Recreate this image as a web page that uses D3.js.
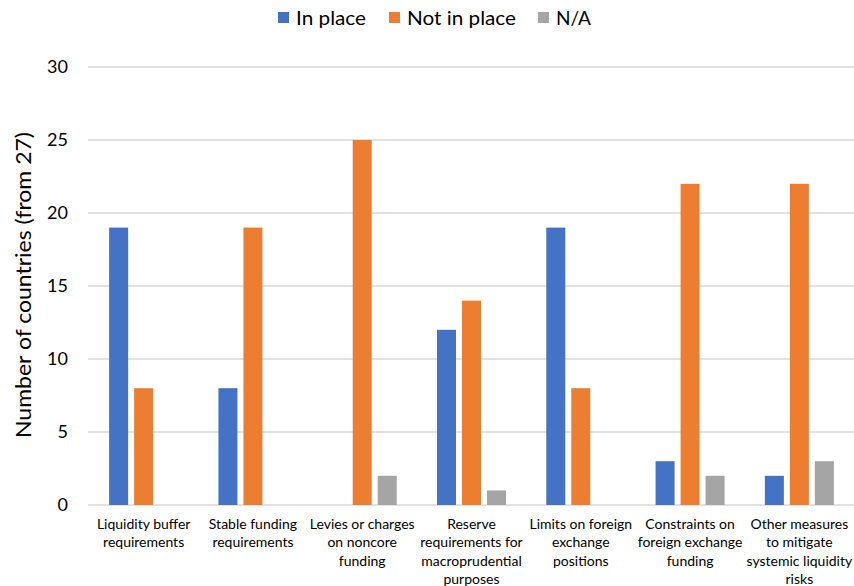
<!DOCTYPE html>
<html>
<head>
<meta charset="utf-8">
<script src="https://cdn.jsdelivr.net/npm/d3@7"></script>
<style>
  body { margin: 0; background: #fff; }
  text { font-family: Lato, "Open Sans", sans-serif; fill: #000; }
</style>
</head>
<body>
<div id="chart"></div>
<script>
// Liquidity tools chart – grouped bars

const categories = [
    ["Liquidity buffer", "requirements"],
    ["Stable funding", "requirements"],
    ["Levies or charges", "on noncore", "funding"],
    ["Reserve", "requirements for", "macroprudential", "purposes"],
    ["Limits on foreign", "exchange", "positions"],
    ["Constraints on", "foreign exchange", "funding"],
    ["Other measures", "to mitigate", "systemic liquidity", "risks"]
];
const seriesNames = ["In place", "Not in place", "N/A"];
const inPlace    = [19, 8, 0, 12, 19, 3, 2];
const notInPlace = [8, 19, 25, 14, 8, 22, 22];
const notApplic  = [0, 0, 2, 1, 0, 2, 3];
const yTicks = [0, 5, 10, 15, 20, 25, 30];

const colors = ["#4472C4", "#ED7D31", "#A5A5A5"];
const series = [inPlace, notInPlace, notApplic];

const W = 854, H = 586;
const margin = { top: 67, right: 0, bottom: 81, left: 89 };
const width = W - margin.left - margin.right;
const height = H - margin.top - margin.bottom;

const svg = d3.select("#chart").append("svg")
    .attr("width", W)
    .attr("height", H);

const g = svg.append("g")
    .attr("transform", `translate(${margin.left},${margin.top})`);

const x = d3.scaleBand()
    .domain(d3.range(categories.length))
    .range([0, width]);

const groupW = 69;
const xInner = d3.scaleBand()
    .domain(d3.range(series.length))
    .range([0, groupW])
    .paddingInner(0.24);

const y = d3.scaleLinear()
    .domain([0, 30])
    .range([height, 0]);

// gridlines
g.selectAll(".grid")
    .data(yTicks)
    .enter()
    .append("line")
    .attr("x1", -1)
    .attr("x2", width)
    .attr("y1", d => y(d))
    .attr("y2", d => y(d))
    .attr("stroke", "#D9D9D9")
    .attr("stroke-width", 1.5);

// y tick labels
g.selectAll(".ytick")
    .data(yTicks)
    .enter()
    .append("text")
    .attr("x", -21)
    .attr("y", d => y(d))
    .attr("dy", "0.35em")
    .attr("text-anchor", "end")
    .style("font-size", "18px")
    .text(d => d);

// bars
const groups = g.selectAll(".cat")
    .data(categories)
    .enter()
    .append("g")
    .attr("transform", (d, i) => `translate(${x(i) + x.bandwidth() / 2 - groupW / 2},0)`);

groups.selectAll("rect")
    .data((d, i) => series.map((s, j) => ({ j, v: s[i] })))
    .enter()
    .append("rect")
    .attr("x", d => xInner(d.j))
    .attr("width", xInner.bandwidth())
    .attr("y", d => y(d.v))
    .attr("height", d => height - y(d.v))
    .attr("fill", d => colors[d.j]);

// category labels
groups.append("text")
    .attr("text-anchor", "middle")
    .attr("transform", `translate(${groupW / 2},${height + 24})`)
    .style("font-size", "14px")
    .selectAll("tspan")
    .data(d => d)
    .enter()
    .append("tspan")
    .attr("x", 0)
    .attr("y", (d, i) => i * 18.3)
    .text(d => d);

// y axis title
svg.append("text")
    .attr("transform", `translate(31,285) rotate(-90)`)
    .attr("text-anchor", "middle")
    .attr("textLength", 306)
    .attr("lengthAdjust", "spacingAndGlyphs")
    .style("font-size", "21px")
    .text("Number of countries (from 27)");

// legend (positions)
const legendX = [278, 389, 538];
const legendTextW = [70, 109, 35];
const legend = svg.selectAll(".legend")
    .data(seriesNames)
    .enter()
    .append("g")
    .attr("transform", (d, i) => `translate(${legendX[i]},12)`);

legend.append("rect")
    .attr("width", 11)
    .attr("height", 11)
    .attr("fill", (d, i) => colors[i]);

legend.append("text")
    .attr("x", 18)
    .attr("y", 6)
    .attr("dy", "0.35em")
    .attr("textLength", (d, i) => legendTextW[i])
    .attr("lengthAdjust", "spacingAndGlyphs")
    .style("font-size", "19px")
    .text(d => d);
</script>
</body>
</html>
